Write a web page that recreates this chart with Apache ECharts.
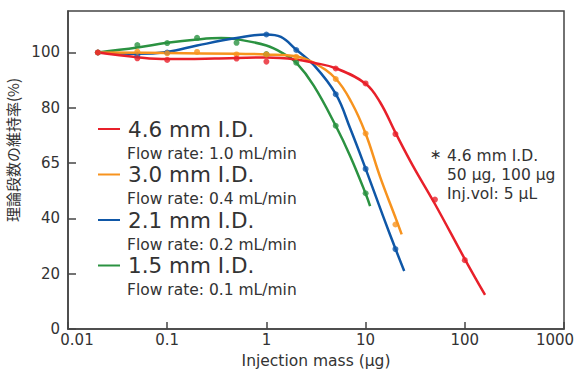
<!DOCTYPE html>
<html>
<head>
<meta charset="utf-8">
<script src="https://cdn.jsdelivr.net/npm/echarts@6/dist/echarts.min.js"></script>
<style>
  html, body { margin: 0; padding: 0; background: #fff; }
  #chart { width: 577px; height: 371px; }
</style>
</head>
<body>
<div id="chart"></div>
<script>
// カラム別データ (injection mass µg, 理論段数の維持率 %)
const columnNames = ['4.6 mm I.D.', '3.0 mm I.D.', '2.1 mm I.D.', '1.5 mm I.D.'];
const flowRates = ['Flow rate: 1.0 mL/min', 'Flow rate: 0.4 mL/min', 'Flow rate: 0.2 mL/min', 'Flow rate: 0.1 mL/min'];
const colors = ['#e8202a', '#f7931e', '#0f57a7', '#2b9241'];

// measured points
const points46 = [[0.02, 100], [0.05, 97.9], [0.1, 97.3], [0.5, 97.8], [1, 96.7], [5, 94.2], [10, 88.8], [20, 70.5], [50, 46.8], [100, 24.9]];
const points30 = [[0.02, 100], [0.05, 100.3], [0.1, 99.7], [0.2, 100.2], [0.5, 99.3], [1, 99.3], [2, 98.4], [5, 90.4], [10, 70.7], [20, 37.8]];
const points21 = [[0.02, 100], [0.05, 99], [0.1, 100], [1, 106.5], [2, 100.9], [5, 84.9], [10, 57.9], [20, 28.9]];
const points15 = [[0.02, 100], [0.05, 102.7], [0.1, 103.4], [0.2, 105.3], [0.5, 103.5], [1, 99.4], [2, 96.3], [5, 73.5], [10, 49.1]];

// fitted curves
const curve46 = [[0.02, 100], [0.05, 98.3], [0.1, 97.6], [0.3, 97.8], [1, 98.2], [2, 97.5], [3, 96.3], [5, 94.3], [10, 88.7], [14, 82], [20, 71], [30, 59], [50, 45.2], [100, 25.3], [160, 12.3]];
const curve30 = [[0.02, 100], [0.1, 99.8], [0.5, 99.5], [1, 99.3], [2, 98.6], [3, 96.3], [5, 90.5], [7.2, 82], [10, 70.7], [14, 55], [20, 40.3], [23.1, 34.2]];
const curve21 = [[0.02, 100], [0.05, 99.5], [0.1, 100.2], [0.2, 102.5], [0.5, 105.2], [1, 106.5], [1.4, 105.6], [2, 101], [3, 95.5], [5, 85], [7, 72.5], [10, 58], [15, 40.8], [20, 29], [24.5, 21]];
const curve15 = [[0.02, 100], [0.05, 101.8], [0.1, 103.5], [0.2, 104.7], [0.35, 105.2], [0.5, 104.8], [1, 102.5], [1.5, 99.5], [2, 96.3], [3, 88], [5, 73.5], [7, 62.5], [10, 49], [11.1, 44.4]];

const allPoints = [points46, points30, points21, points15];
const allCurves = [curve46, curve30, curve21, curve15];

const noteLines = ['4.6 mm I.D.', '50 µg, 100 µg', 'Inj.vol: 5 µL'];

const FONT = '"DejaVu Sans", Verdana, sans-serif';
const TEXT_COLOR = '#333';

const chart = echarts.init(document.getElementById('chart'), null, { renderer: 'svg' });

const series = [];
// 緑 → 青 → 橙 → 赤 の順で重ねる
for (let i = 3; i >= 0; i--) {
    series.push({
        name: columnNames[i],
        type: 'line',
        smooth: 0.4,
        showSymbol: false,
        symbol: 'none',
        lineStyle: { color: colors[i], width: 2.5 },
        data: allCurves[i],
        z: 2
    });
}
for (let i = 3; i >= 0; i--) {
    series.push({
        name: columnNames[i] + ' pts',
        type: 'scatter',
        symbolSize: 6,
        itemStyle: { color: colors[i] },
        data: allPoints[i],
        z: 3
    });
}

// legend drawn by hand so the line sits beside the first text row
const graphics = [];
columnNames.forEach((name, i) => {
    const y = 129 + 45.5 * i;
    graphics.push({
        type: 'line',
        shape: { x1: 98, y1: y, x2: 120, y2: y },
        style: { stroke: colors[i], lineWidth: 2 }
    });
    graphics.push({
        type: 'text',
        style: { x: 128, y: y, text: name, fill: TEXT_COLOR, fontSize: 21.5, fontFamily: FONT, verticalAlign: 'middle' }
    });
    graphics.push({
        type: 'text',
        style: { x: 127, y: y + 24.5, text: flowRates[i], fill: TEXT_COLOR, fontSize: 15.5, fontFamily: FONT, verticalAlign: 'middle' }
    });
});
graphics.push({
    type: 'text',
    style: { x: 430, y: 154, text: '∗', fill: TEXT_COLOR, fontSize: 14, fontFamily: FONT, verticalAlign: 'middle' }
});
noteLines.forEach((t, i) => {
    graphics.push({
        type: 'text',
        style: { x: 447, y: 156 + 19 * i, text: t, fill: TEXT_COLOR, fontSize: 15.5, fontFamily: FONT, verticalAlign: 'middle' }
    });
});

const option = {
    animation: false,
    backgroundColor: '#fff',
    grid: {
        left: 68, right: 13, top: 11, bottom: 42,
        outerBoundsMode: 'none',
        containLabel: false,
        show: true, borderColor: '#444', borderWidth: 1.5
    },
    xAxis: {
        type: 'log',
        logBase: 10,
        min: 0.01,
        max: 1000,
        name: 'Injection mass (µg)',
        nameLocation: 'middle',
        nameGap: 24,
        nameTextStyle: { color: TEXT_COLOR, fontSize: 15.5, fontFamily: FONT },
        axisLine: { lineStyle: { color: '#444', width: 1.5 } },
        axisTick: { inside: true, length: 7, lineStyle: { color: '#444', width: 1.5 } },
        minorTick: { show: false },
        splitLine: { show: false },
        axisLabel: {
            margin: 3,
            color: TEXT_COLOR,
            fontSize: 15,
            fontFamily: FONT,
            formatter: v => {
                if (Math.abs(v - 0.01) < 1e-9) return '{l|0.01}';
                if (Math.abs(v - 1000) < 1e-6) return '{r|1000}';
                return String(+v.toPrecision(6));
            },
            rich: {
                l: { padding: [0, 0, 0, 18], color: TEXT_COLOR, fontSize: 15, fontFamily: FONT },
                r: { padding: [0, 18, 0, 0], color: TEXT_COLOR, fontSize: 15, fontFamily: FONT }
            }
        }
    },
    yAxis: {
        type: 'value',
        min: 0,
        max: 115,
        interval: 20,
        name: '理論段数の維持率(%)',
        nameLocation: 'middle',
        nameGap: 42,
        nameTextStyle: {
            color: TEXT_COLOR, fontSize: 15, fontFamily: '"Noto Sans CJK JP", sans-serif',
            padding: [0, 0, 0, 40]
        },
        axisLine: { show: true, lineStyle: { color: '#444', width: 1.5 } },
        axisTick: { show: true, inside: true, length: 8, lineStyle: { color: '#444', width: 1.5 } },
        splitLine: { show: false },
        axisLabel: {
            margin: 8,
            color: TEXT_COLOR,
            fontSize: 15,
            fontFamily: FONT,
            showMaxLabel: false,
            formatter: v => (v % 20 !== 0 ? '' : v === 60 ? '65' : String(v))
        }
    },
    graphic: graphics,
    series: series
};

chart.setOption(option);
</script>
</body>
</html>
